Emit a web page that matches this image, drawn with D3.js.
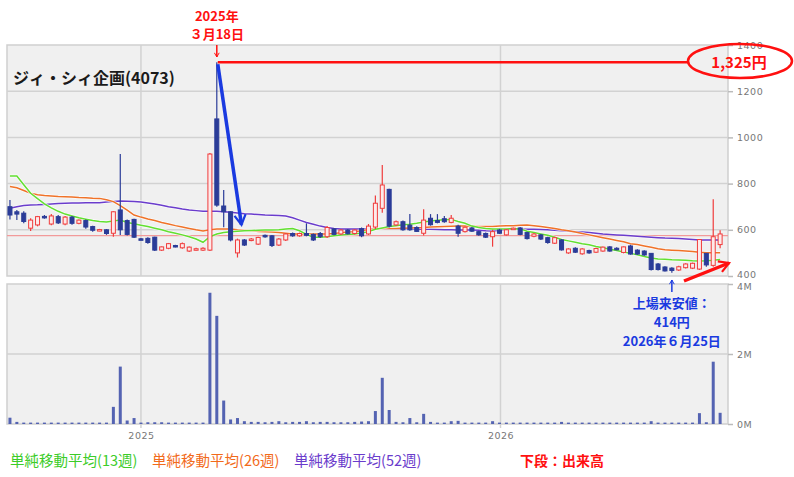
<!DOCTYPE html>
<html>
<head>
<meta charset="utf-8">
<script src="https://cdn.jsdelivr.net/npm/d3@7"></script>
<style>
    body { margin: 0; background: #fff; }
    svg { display: block; font-family: "Noto Sans CJK JP", "Noto Sans", sans-serif; }
</style>
</head>
<body>
<svg id="chart" width="794" height="477"></svg>
<script>

// weekly candles (week of ... , plotted on the Wednesday)
const weeks = [
    "2024-08-21","2024-08-28","2024-09-04","2024-09-11","2024-09-18","2024-09-25","2024-10-02","2024-10-09",
    "2024-10-16","2024-10-23","2024-10-30","2024-11-06","2024-11-13","2024-11-20","2024-11-27","2024-12-04",
    "2024-12-11","2024-12-18","2024-12-25","2025-01-01","2025-01-08","2025-01-15","2025-01-22","2025-01-29",
    "2025-02-05","2025-02-12","2025-02-19","2025-02-26","2025-03-05","2025-03-12","2025-03-19","2025-03-26",
    "2025-04-02","2025-04-09","2025-04-16","2025-04-23","2025-04-30","2025-05-07","2025-05-14","2025-05-21",
    "2025-05-28","2025-06-04","2025-06-11","2025-06-18","2025-06-25","2025-07-02","2025-07-09","2025-07-16",
    "2025-07-23","2025-07-30","2025-08-06","2025-08-13","2025-08-20","2025-08-27","2025-09-03","2025-09-10",
    "2025-09-17","2025-09-24","2025-10-01","2025-10-08","2025-10-15","2025-10-22","2025-10-29","2025-11-05",
    "2025-11-12","2025-11-19","2025-11-26","2025-12-03","2025-12-10","2025-12-17","2025-12-24","2025-12-31",
    "2026-01-07","2026-01-14","2026-01-21","2026-01-28","2026-02-04","2026-02-11","2026-02-18","2026-02-25",
    "2026-03-04","2026-03-11","2026-03-18","2026-03-25","2026-04-01","2026-04-08","2026-04-15","2026-04-22",
    "2026-04-29","2026-05-06","2026-05-13","2026-05-20","2026-05-27","2026-06-03","2026-06-10","2026-06-17",
    "2026-06-24","2026-07-01","2026-07-08","2026-07-15","2026-07-22","2026-07-29","2026-08-05","2026-08-12"
];

const open = [
    700,678,672,607,621,658,625,657,625,655,628,640,614,598,600,585,686,640,645,561,
    563,568,512,520,532,522,508,514,512,512,1080,703,678,500,556,555,538,576,574,534,
    556,584,574,584,580,584,570,604,582,599,584,605,582,612,693,775,621,635,620,610,
    585,650,640,648,632,616,592,608,592,584,570,599,578,604,608,588,572,578,566,542,
    556,500,520,496,510,503,508,526,520,502,530,512,508,498,452,439,434,426,436,434,
    430,498,446,536
];
const high = [
    729,686,680,650,660,664,668,664,660,660,645,645,618,604,603,680,928,645,648,565,
    568,570,528,543,535,545,528,522,525,932,1325,772,680,562,560,565,570,580,578,565,
    584,588,588,628,584,590,616,608,602,603,602,610,625,749,881,778,640,640,668,615,
    689,668,668,660,664,622,614,612,596,588,600,604,604,610,612,592,586,582,570,570,
    560,520,524,520,514,522,528,530,525,528,535,516,512,500,456,442,438,444,455,458,
    560,500,732,598
];
const low = [
    645,642,628,595,615,648,620,625,620,622,624,605,592,594,578,570,578,575,565,556,
    540,508,508,516,524,518,504,510,508,508,700,611,550,480,530,550,534,566,526,530,
    552,570,570,572,552,564,565,576,578,580,580,568,578,604,674,610,618,596,596,590,
    575,618,628,630,628,570,588,590,574,565,527,582,575,600,576,558,568,556,540,538,
    510,496,500,492,496,500,505,505,512,498,492,492,488,424,424,419,414,422,432,430,
    426,440,440,520
];
const close = [
    664,668,636,642,657,655,660,630,655,628,642,612,598,601,584,678,600,580,568,558,
    545,512,526,540,528,540,525,518,520,928,707,678,556,556,534,560,567,570,532,560,
    582,574,584,576,556,570,610,580,599,583,599,574,616,715,794,616,635,600,600,593,
    642,622,632,635,650,585,611,594,578,568,592,585,600,607,580,562,582,560,545,566,
    513,517,503,517,500,519,525,508,516,526,495,495,491,428,428,422,424,440,452,455,
    558,448,570,582
];

// 出来高 (百万株)
const volume = [
    0.18,0.06,0.04,0.04,0.04,0.04,0.04,0.04,0.04,0.04,0.04,0.04,0.04,0.04,0.04,0.49,1.64,0.10,0.17,0.04,
    0.05,0.05,0.05,0.04,0.04,0.04,0.04,0.04,0.04,3.75,3.09,0.67,0.13,0.17,0.08,0.06,0.06,0.05,0.06,0.08,
    0.05,0.06,0.06,0.08,0.05,0.06,0.06,0.05,0.05,0.05,0.06,0.07,0.08,0.37,1.32,0.40,0.06,0.05,0.17,0.05,
    0.29,0.06,0.04,0.04,0.08,0.09,0.04,0.04,0.04,0.04,0.08,0.04,0.04,0.04,0.04,0.04,0.04,0.04,0.04,0.04,
    0.06,0.04,0.04,0.04,0.04,0.04,0.04,0.04,0.04,0.04,0.04,0.04,0.04,0.08,0.04,0.04,0.04,0.04,0.04,0.04,
    0.31,0.05,1.78,0.32
];

// 単純移動平均
const ma13 = [
    833,833,795,758,735,712,695,680,668,660,652,646,640,636,634,638,642,632,626,620,
    614,607,600,592,585,578,570,560,546,570,582,588,592,594,596,597,598,599,599,600,
    603,606,596,580,568,568,570,574,578,580,582,586,592,602,608,614,618,622,624,628,
    634,638,641,643,645,636,628,616,610,606,603,603,604,605,604,594,588,582,576,568,
    558,552,546,540,535,528,522,516,510,504,498,492,484,478,474,472,470,469,468,466,
    465,466,468,471
];
const ma26 = [
    787,782,770,758,752,748,746,744,743,742,740,739,737,736,730,722,705,685,664,655,
    647,640,632,625,618,612,606,600,595,600,603,604,603,600,598,596,593,592,590,588,
    585,582,582,582,582,582,582,584,587,590,592,596,600,604,606,606,606,607,608,609,
    610,612,613,614,615,616,616,615,614,614,614,616,617,618,620,621,618,614,610,606,
    600,596,590,584,578,572,566,560,554,548,540,536,530,524,518,514,512,510,508,506,
    503,501,501,501
];
const ma52 = [
    693,700,705,707,708,710,712,714,715,716,716,717,717,717,720,722,725,724,722,720,
    716,712,706,700,695,690,686,683,680,680,680,678,676,673,670,668,666,664,663,662,
    660,652,642,632,624,616,610,606,604,603,603,603,603,603,603,603,603,603,603,602,
    602,602,601,600,600,599,599,599,598,596,595,598,601,603,603,602,602,601,600,598,
    596,594,592,590,588,585,582,580,578,576,574,572,570,568,566,564,563,562,560,558,
    556,556,556,556
];

const priceTicks = [400, 600, 800, 1000, 1200, 1400];
const volumeTicks = [0, 2, 4];
const yearTicks = ["2025-01-01", "2026-01-01"];
const listingLine = 575;
const peakIndex = 30, lowIndex = 96;

const parseDate = d3.timeParse("%Y-%m-%d");
const dates = weeks.map(parseDate);

const chart = {left: 7, right: 728, priceTop: 45, priceBottom: 276, volTop: 284, volBottom: 424};

const svg = d3.select("#chart");

const x = d3.scaleTime()
    .domain([parseDate("2024-08-18"), parseDate("2026-08-20")])
    .range([chart.left, chart.right]);

const yPrice = d3.scaleLinear()
    .domain([400, 1400])
    .range([chart.priceBottom, chart.priceTop]);

const yVol = d3.scaleLinear()
    .domain([0, 4])
    .range([chart.volBottom, chart.volTop]);

const upColor = "#f03c3c", upFill = "#fdeaea", downColor = "#2b3c98";
const gridColor = "#d2d2d2";

// panels
[[chart.priceTop, chart.priceBottom], [chart.volTop, chart.volBottom]].forEach(function (p) {
    svg.append("rect")
        .attr("x", chart.left)
        .attr("y", p[0])
        .attr("width", chart.right - chart.left)
        .attr("height", p[1] - p[0])
        .attr("fill", "#f0f0f0")
        .attr("stroke", "#cfcfcf")
        .attr("stroke-width", 1.5);
});

svg.append("clipPath").attr("id", "priceClip")
    .append("rect")
    .attr("x", chart.left).attr("y", chart.priceTop)
    .attr("width", chart.right - chart.left).attr("height", chart.priceBottom - chart.priceTop);

//horizontal grid
svg.append("g").selectAll("line")
    .data(priceTicks.slice(1, -1))
    .enter().append("line")
    .attr("x1", chart.left).attr("x2", chart.right)
    .attr("y1", function (d) { return yPrice(d); })
    .attr("y2", function (d) { return yPrice(d); })
    .attr("stroke", gridColor).attr("stroke-width", 1.5);

svg.append("line")
    .attr("x1", chart.left).attr("x2", chart.right)
    .attr("y1", yVol(2)).attr("y2", yVol(2))
    .attr("stroke", gridColor).attr("stroke-width", 1.5);

//vertical grid on both panels
yearTicks.map(parseDate).forEach(function (d) {
    [[chart.priceTop, chart.priceBottom], [chart.volTop, chart.volBottom + 4]].forEach(function (p) {
        svg.append("line")
            .attr("x1", x(d)).attr("x2", x(d))
            .attr("y1", p[0]).attr("y2", p[1])
            .attr("stroke", gridColor).attr("stroke-width", 1.5);
    });
});

// axes on the right
const axisFont = "DejaVu Sans";

svg.append("g")
    .attr("class", "y-axis")
    .attr("transform", "translate(" + chart.right + ",0)")
    .call(d3.axisRight(yPrice).tickValues(priceTicks).tickSize(5).tickPadding(4)
        .tickFormat(d3.format("d")));

svg.append("g")
    .attr("class", "v-axis")
    .attr("transform", "translate(" + chart.right + ",0)")
    .call(d3.axisRight(yVol).tickValues(volumeTicks).tickSize(5).tickPadding(4)
        .tickFormat(function (d) { return d + "M"; }));

svg.append("g")
    .attr("class", "x-axis")
    .attr("transform", "translate(0," + chart.volBottom + ")")
    .call(d3.axisBottom(x).tickValues(yearTicks.map(parseDate)).tickSize(0).tickPadding(8)
        .tickFormat(d3.timeFormat("%Y")));

svg.selectAll(".y-axis, .v-axis, .x-axis").select(".domain").remove();
svg.selectAll(".y-axis .tick line, .v-axis .tick line").attr("stroke", "#bbb").attr("stroke-width", 1.5);
svg.selectAll(".y-axis text, .v-axis text, .x-axis text")
    .attr("fill", "#777")
    .style("font-family", axisFont)
    .style("font-size", "9.5px")
    .style("letter-spacing", "0.5px");

// keep the 400 and 4M labels apart
svg.selectAll(".y-axis .tick text").filter(function (d) { return d === 400; }).attr("dy", "0.2em");
svg.selectAll(".v-axis .tick text").filter(function (d) { return d === 4; }).attr("dy", "0.6em");

const plot = svg.append("g").attr("clip-path", "url(#priceClip)");

// listing reference line
plot.append("line")
    .attr("x1", chart.left).attr("x2", chart.right)
    .attr("y1", yPrice(listingLine)).attr("y2", yPrice(listingLine))
    .attr("stroke", "#f29a9a").attr("stroke-width", 1.3);

// moving averages
const maLine = d3.line()
    .x(function (d, i) { return x(dates[i]); })
    .y(function (d) { return yPrice(d); });

[[ma52, "#6a3ccc"], [ma26, "#f07228"], [ma13, "#62e030"]].forEach(function (m) {
    plot.append("path")
        .datum(m[0])
        .attr("fill", "none")
        .attr("stroke", "#fff")
        .attr("stroke-opacity", 0.7)
        .attr("stroke-width", 3)
        .attr("d", maLine);
    plot.append("path")
        .datum(m[0])
        .attr("fill", "none")
        .attr("stroke", m[1])
        .attr("stroke-width", 1.5)
        .attr("d", maLine);
});

// candles
const candles = dates.map(function (d, i) {
    return {date: d, o: open[i], h: high[i], l: low[i], c: close[i], v: volume[i]};
});

const bodyWidth = 4;

const candle = plot.selectAll(".candle")
    .data(candles)
    .enter()
    .append("g")
    .attr("class", "candle");

candle.append("line")
    .attr("x1", function (d) { return x(d.date); })
    .attr("x2", function (d) { return x(d.date); })
    .attr("y1", function (d) { return yPrice(d.h); })
    .attr("y2", function (d) { return yPrice(d.l); })
    .attr("stroke", function (d) { return d.c >= d.o ? upColor : downColor; })
    .attr("stroke-width", 1.2);

candle.append("rect")
    .attr("x", function (d) { return x(d.date) - bodyWidth / 2; })
    .attr("y", function (d) { return yPrice(Math.max(d.o, d.c)); })
    .attr("width", bodyWidth)
    .attr("height", function (d) { return Math.max(1.5, Math.abs(yPrice(d.o) - yPrice(d.c))); })
    .attr("fill", function (d) { return d.c >= d.o ? upFill : downColor; })
    .attr("stroke", function (d) { return d.c >= d.o ? upColor : downColor; })
    .attr("stroke-width", 1);

// volume
svg.append("g").selectAll("rect")
    .data(candles)
    .enter()
    .append("rect")
    .attr("x", function (d) { return x(d.date) - 1.5; })
    .attr("y", function (d) { return yVol(d.v); })
    .attr("width", 3)
    .attr("height", function (d) { return yVol(0) - yVol(d.v); })
    .attr("fill", "#5463b2");

// title
svg.append("text")
    .attr("x", 13).attr("y", 84)
    .attr("font-size", 16).attr("font-weight", "bold")
    .attr("fill", "#1a1a1a")
    .text("ジィ・シィ企画(4073)");

// arrow heads
const defs = svg.append("defs");
[["headRed", "#ff1010"], ["headBlue", "#1a3ae0"]].forEach(function (a) {
    defs.append("marker")
        .attr("id", a[0])
        .attr("viewBox", "0 0 10 10")
        .attr("refX", 8).attr("refY", 5)
        .attr("markerWidth", 4).attr("markerHeight", 4)
        .attr("orient", "auto")
        .append("path")
        .attr("d", "M1,1 L8,5 L1,9")
        .attr("fill", "none")
        .attr("stroke", a[1])
        .attr("stroke-width", 1.6);
});

const red = "#ff1010", blue = "#1a3ae0";
const peakX = x(dates[peakIndex]), peakY = yPrice(high[peakIndex]);

// peak annotation
svg.append("text")
    .attr("x", peakX).attr("y", 21)
    .attr("text-anchor", "middle")
    .attr("font-size", 13).attr("font-weight", "bold").attr("fill", red)
    .text("2025年");
svg.append("text")
    .attr("x", peakX).attr("y", 39)
    .attr("text-anchor", "middle")
    .attr("font-size", 13).attr("font-weight", "bold").attr("fill", red)
    .text("３月18日");

svg.append("line")
    .attr("x1", peakX).attr("x2", peakX)
    .attr("y1", 45).attr("y2", 57)
    .attr("stroke", red).attr("stroke-width", 1.5)
    .attr("marker-end", "url(#headRed)");

svg.append("line")
    .attr("x1", peakX + 1).attr("x2", 688)
    .attr("y1", peakY).attr("y2", peakY)
    .attr("stroke", red).attr("stroke-width", 2.5);

svg.append("ellipse")
    .attr("cx", 740).attr("cy", 61)
    .attr("rx", 52).attr("ry", 17)
    .attr("fill", "none")
    .attr("stroke", red).attr("stroke-width", 2.5);

svg.append("text")
    .attr("x", 739).attr("y", 68)
    .attr("text-anchor", "middle")
    .attr("font-size", 15).attr("font-weight", "bold").attr("fill", red)
    .text(d3.format(",")(high[peakIndex]) + "円");

// blue arrow from the peak down
svg.append("line")
    .attr("x1", peakX + 1).attr("y1", peakY + 2)
    .attr("x2", x(dates[peakIndex + 3]) + 4).attr("y2", yPrice(622))
    .attr("stroke", blue).attr("stroke-width", 3.5)
    .attr("marker-end", "url(#headBlue)");

// all-time low annotation
const lowX = x(dates[lowIndex]);

svg.append("line")
    .attr("x1", lowX).attr("x2", lowX)
    .attr("y1", 292).attr("y2", 280)
    .attr("stroke", blue).attr("stroke-width", 1.5)
    .attr("marker-end", "url(#headBlue)");

["上場来安値：", low[lowIndex] + "円", "2026年６月25日"].forEach(function (t, i) {
    svg.append("text")
        .attr("x", lowX).attr("y", 308 + i * 19)
        .attr("text-anchor", "middle")
        .attr("font-size", 13).attr("font-weight", "bold").attr("fill", blue)
        .text(t);
});

svg.append("line")
    .attr("x1", 684).attr("y1", 281)
    .attr("x2", 729).attr("y2", 263)
    .attr("stroke", red).attr("stroke-width", 3.5)
    .attr("marker-end", "url(#headRed)");

// legend
const legend = [["単純移動平均(13週)", "#3ccc28", 10], ["単純移動平均(26週)", "#f26a1a", 152], ["単純移動平均(52週)", "#6a3ccc", 294]];

svg.selectAll(".legend")
    .data(legend)
    .enter()
    .append("text")
    .attr("class", "legend")
    .attr("x", function (d) { return d[2]; })
    .attr("y", 466)
    .attr("font-size", 14.5)
    .attr("fill", function (d) { return d[1]; })
    .text(function (d) { return d[0]; });

svg.append("text")
    .attr("x", 520).attr("y", 466)
    .attr("font-size", 14).attr("font-weight", "bold").attr("fill", red)
    .text("下段：出来高");

</script>
</body>
</html>
